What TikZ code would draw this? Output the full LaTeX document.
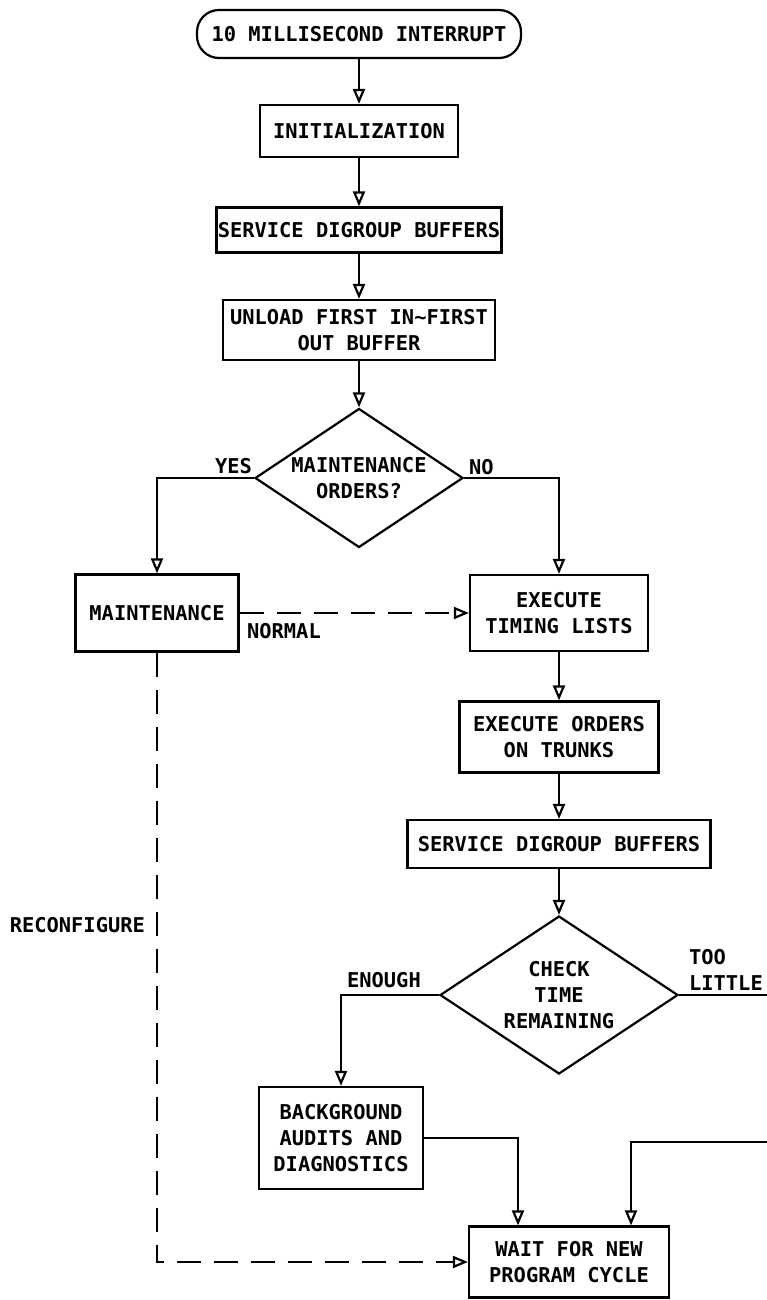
\documentclass[tikz,border=0pt]{standalone}
\usepackage{fontspec}
\setmainfont{DejaVu Sans Mono}
\usetikzlibrary{arrows.meta,shapes.geometric}

\begin{document}
\begin{tikzpicture}[x=1pt,y=-1pt,line width=2.2pt,
	font=\fontsize{20.4}{26}\selectfont\bfseries,
	box/.style={draw,align=center,inner sep=0pt},
	decision/.style={draw,diamond,align=center,inner sep=0pt,aspect=1.5},
	lbl/.style={inner sep=0pt,align=left},
	flow/.style={-{Triangle[open,length=15pt,width=12pt]}},
	broken/.style={flow,dash pattern=on 24pt off 13pt}]
	\useasboundingbox (0,0) rectangle (767,1300);
	\node[box,rounded corners=22pt,minimum width=324pt,minimum height=48pt] (start) at (359,34) {10 MILLISECOND INTERRUPT};
	\node[box,minimum width=198pt,minimum height=52pt] (init) at (359,131) {INITIALIZATION};
	\node[box,minimum width=285pt,minimum height=45pt] (serv1) at (359,230) {SERVICE DIGROUP BUFFERS};
	\node[box,minimum width=272pt,minimum height=60pt] (unload) at (359,330) {UNLOAD FIRST IN\textasciitilde FIRST\\OUT BUFFER};
	\node[decision,minimum width=208pt,minimum height=139pt] (dec1) at (359,478) {MAINTENANCE\\ORDERS?};
	\node[box,minimum width=163pt,minimum height=77pt] (maint) at (157,613) {MAINTENANCE};
	\node[box,minimum width=178pt,minimum height=76pt] (exec1) at (559,613) {EXECUTE\\TIMING LISTS};
	\node[box,minimum width=199pt,minimum height=71pt] (exec2) at (559,737) {EXECUTE ORDERS\\ON TRUNKS};
	\node[box,minimum width=303pt,minimum height=48pt] (serv2) at (559,844) {SERVICE DIGROUP BUFFERS};
	\node[decision,minimum width=238pt,minimum height=158pt] (dec2) at (559,995) {CHECK\\TIME\\REMAINING};
	\node[box,minimum width=164pt,minimum height=102pt] (backgr) at (341,1138) {BACKGROUND\\AUDITS AND\\DIAGNOSTICS};
	\node[box,minimum width=200pt,minimum height=71pt] (wait) at (569,1262) {WAIT FOR NEW\\PROGRAM CYCLE};
	\node[lbl,anchor=south east] (yes) at (253,475) {YES};
	\node[lbl,anchor=south west] (no) at (468,476) {NO};
	\node[lbl,anchor=north west] (normal) at (246,622) {NORMAL};
	\node[lbl,anchor=east] (reconf) at (146,925) {RECONFIGURE};
	\node[lbl,anchor=south west] (enough) at (346,989) {ENOUGH};
	\node[lbl,anchor=south west] (toolittle) at (688,992) {TOO\\LITTLE};
	\coordinate (rimA) at (780,995);
	\coordinate (rimB) at (780,1142);
	\draw[flow] (start) -- (init);
	\draw[flow] (init) -- (serv1);
	\draw[flow] (serv1) -- (unload);
	\draw[flow] (unload) -- (dec1);
	\draw[flow] (dec1.west) -| (maint.north);
	\draw[flow] (dec1.east) -| (exec1.north);
	\draw[broken] (maint.east) -- (exec1.west);
	\draw[broken] (maint.south) |- (wait.west);
	\draw[flow] (exec1) -- (exec2);
	\draw[flow] (exec2) -- (serv2);
	\draw[flow] (serv2) -- (dec2);
	\draw[flow] (dec2.west) -| (backgr.north);
	\draw[flow] (backgr.east) -| ([xshift=-51pt]wait.north);
	\draw[flow] (dec2.east) -- (rimA) -- (rimB) -| ([xshift=62pt]wait.north);
\end{tikzpicture}
\end{document}
